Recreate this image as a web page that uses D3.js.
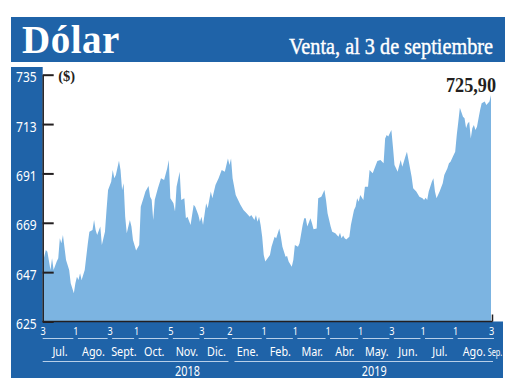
<!DOCTYPE html>
<html>
<head>
<meta charset="utf-8">
<script src="https://cdn.jsdelivr.net/npm/d3@7"></script>
<style>
	body { margin: 0; background: #fff; }
	svg { display: block; }
</style>
</head>
<body>
<svg id="chart" width="520" height="390"></svg>
<script>
// trading session (counted from 3 Jul 2018) and the selling rate in pesos
var sessions = [0, 2, 3, 5, 6, 7, 9, 10, 11, 12, 13, 15, 17, 18, 20, 21, 22, 23, 24, 25, 27, 29, 30, 32, 33, 34, 35, 37, 38, 40,
	41, 42, 44, 45, 46, 47, 49, 50, 51, 52, 53, 54, 56, 57, 58, 60, 62, 63, 65, 66, 68, 69, 70, 71, 72, 74, 76, 78, 80, 81,
	82, 84, 85, 86, 88, 89, 91, 92, 93, 95, 97, 98, 100, 101, 102, 103, 105, 106, 108, 109, 111, 113, 115, 117, 119, 120, 121, 122, 124, 125,
	127, 129, 131, 133, 134, 136, 137, 138, 139, 140, 141, 142, 143, 146, 147, 149, 150, 152, 153, 154, 156, 157, 158, 160, 161, 162, 164, 165, 167, 168,
	169, 170, 172, 173, 174, 176, 177, 179, 181, 182, 183, 185, 186, 188, 190, 191, 192, 193, 194, 195, 197, 198, 200, 201, 202, 203, 204, 206, 207, 209,
	210, 212, 214, 215, 217, 219, 220, 221, 222, 224, 225, 226, 227, 228, 230, 231, 232, 233, 234, 235, 237, 238, 240, 242, 244, 245, 246, 247, 248, 250,
	251, 252, 253, 255, 257, 258, 260, 261, 262, 264, 265, 266, 267, 268, 270, 271, 272, 273, 274, 275, 276, 277, 278, 279, 280, 281, 282, 284, 285, 287,
	288];
var values = [651, 656.9, 656.1, 648, 653.2, 648, 651.7, 653.2, 662.1, 659.9, 663.6, 652.4, 648, 642, 637.6, 642, 645, 643.5, 646.5, 643.5, 648, 659.9, 665, 665.8, 670.2, 665.8, 663.6, 667.3, 659.1, 665,
	674.7, 683.6, 687.3, 692.5, 688.8, 690.3, 696.7, 692.5, 683.6, 686.6, 671.7, 664.3, 670.2, 667.3, 661.3, 656.6, 659.1, 676.2, 680.6, 682.9, 685.4, 680.6, 679.3, 670.2, 679.3, 684.4, 688.8, 688.1, 693.3, 697,
	679.9, 677.7, 674, 685.1, 691.8, 679.2, 679.9, 671, 671.7, 668, 677, 676.2, 672.5, 669.5, 671.7, 668, 677.7, 675.5, 682.9, 679.9, 685.8, 688.8, 692.5, 691.8, 697.7, 694.8, 697.7, 688.8, 681.4, 679.9,
	677, 674.7, 673.2, 671.7, 672.5, 670.2, 672.5, 669.5, 671.7, 668, 662.8, 654.6, 651.7, 654.6, 658.3, 662.8, 662.1, 666.5, 662.8, 658.3, 653.9, 654.2, 651.7, 649.4, 652.4, 659.1, 658.3, 659.9, 668, 671,
	671, 667.3, 671, 668.8, 666.1, 666.5, 679.9, 680.6, 683.6, 679.2, 673.2, 667.3, 665, 664.3, 662.8, 664.6, 662.1, 663.3, 662.1, 661.6, 662.8, 668, 674.7, 676.2, 679.9, 678.4, 681.4, 679.2, 685.1, 685.1,
	692.5, 691.1, 694.8, 696.5, 697, 695.5, 706.6, 708.1, 707.4, 710.3, 702.9, 694.8, 693.3, 691.8, 697, 694, 696.2, 698.5, 700.7, 697, 689.5, 684.4, 682.9, 680.6, 679.9, 679.2, 680.2, 679.2, 682.9, 687.3,
	688.8, 682.9, 679.9, 682.9, 686.6, 690.3, 693.3, 695.5, 696.2, 699.2, 700.7, 708.1, 714, 720.3, 716.3, 715.6, 711.1, 713.3, 714, 706.6, 711.1, 712.6, 710.3, 711.8, 715.6, 719.3, 722.3, 723, 721.5, 723,
	725.9];

var yTicks = [625, 647, 669, 691, 713, 735];

// first session of each month and the day shown under it
var tickSessions = [0, 21, 43, 60, 82, 102, 120, 142, 162, 183, 204, 224, 244, 265, 288];
var tickLabels = ["3", "1", "3", "1", "5", "3", "2", "1", "1", "1", "1", "3", "1", "1", "3"];
var months = ["Jul.", "Ago.", "Sept.", "Oct.", "Nov.", "Dic.", "Ene.", "Feb.", "Mar.", "Abr.", "May.", "Jun.", "Jul.", "Ago.", "Sep."];

var years = ["2018", "2019"];
var yearStart = [0, 120];
var yearEnd = [120, 288];
var yearLabelAt = [93, 213];

var lastLabel = "725,90";

var blue = "#1f63a8";
var areaColor = "#7cb4e1";
var ink = "#231f20";
var rule = "#b7cfe9";
var sans = "'Noto Sans', sans-serif";
var serif = "'Liberation Serif', serif";

var svg = d3.select("#chart");

var x = d3.scaleLinear()
	.domain([0, 288])
	.range([42.7, 491]);

var y = d3.scaleLinear()
	.domain([625, 735])
	.range([321.5, 74.7]);

var bottom = 378;

// title bar
svg.append("rect")
	.attr("x", 11).attr("y", 17)
	.attr("width", 494).attr("height", 45)
	.attr("fill", blue);

svg.append("text")
	.attr("x", 22).attr("y", 52.5)
	.attr("fill", "#fff")
	.style("font-family", serif)
	.style("font-weight", "bold")
	.style("font-size", "39px")
	.style("letter-spacing", "0.5px")
	.text("Dólar");

svg.append("text")
	.attr("x", 493).attr("y", 54)
	.attr("text-anchor", "end")
	.attr("textLength", 204)
	.attr("lengthAdjust", "spacingAndGlyphs")
	.attr("fill", "#fff")
	.attr("stroke", "#fff")
	.attr("stroke-width", 0.4)
	.style("font-family", serif)
	.style("font-size", "23px")
	.text("Venta, al 3 de septiembre");

// blue strips for the axes
svg.append("rect")
	.attr("x", 11).attr("y", 67)
	.attr("width", x(0) - 11).attr("height", bottom - 67)
	.attr("fill", blue);

svg.append("rect")
	.attr("x", 11).attr("y", y(625))
	.attr("width", 503 - 11).attr("height", bottom - y(625))
	.attr("fill", blue);

// the area
var data = sessions.map(function(s, i) {
	return {s: s, v: values[i]};
});

var area = d3.area()
	.x(function(d) { return x(d.s); })
	.y0(y(625))
	.y1(function(d) { return y(d.v); });

svg.append("path")
	.datum(data)
	.attr("d", area)
	.attr("fill", areaColor);

// y axis: ticks point inside, labels sit in the blue strip
var yAxis = svg.append("g")
	.attr("transform", "translate(" + x(0) + ",0)")
	.call(d3.axisLeft(y).tickValues(yTicks).tickSize(-11).tickSizeOuter(0).tickPadding(6));

yAxis.select(".domain")
	.attr("stroke", ink)
	.attr("stroke-width", 1.5);

yAxis.selectAll(".tick line")
	.attr("stroke", ink)
	.attr("stroke-width", 2);

yAxis.selectAll(".tick text")
	.attr("fill", "#fff")
	.attr("x", -6 / 0.86)
	.attr("dy", "0.5em")
	.attr("transform", "scale(0.86,1)")
	.style("font-family", sans)
	.style("font-size", "14px");

// baseline and the closing tick on the right
svg.append("line")
	.attr("x1", x(0)).attr("x2", x(288) + 1.5)
	.attr("y1", y(625)).attr("y2", y(625))
	.attr("stroke", ink)
	.attr("stroke-width", 1.5);

svg.append("line")
	.attr("x1", x(288) + 1.5).attr("x2", x(288) + 1.5)
	.attr("y1", y(625) - 7).attr("y2", y(625))
	.attr("stroke", ink)
	.attr("stroke-width", 1.5);

// x axis: day numbers
var xAxis = svg.append("g")
	.attr("transform", "translate(0," + y(625) + ")")
	.call(d3.axisBottom(x).tickValues(tickSessions)
		.tickFormat(function(d, i) { return tickLabels[i]; })
		.tickSize(0).tickPadding(0));

xAxis.select(".domain").remove();

xAxis.selectAll(".tick text")
	.attr("y", 13.5)
	.attr("dy", 0)
	.attr("transform", "scale(0.8,1)")
	.attr("fill", "#fff")
	.style("font-family", sans)
	.style("font-size", "11.5px");

// month rules and names
var monthRow = svg.append("g");

months.forEach(function(m, i) {
	var last = i === months.length - 1;
	var a = x(tickSessions[i]);
	var b = last ? a + 3 : x(tickSessions[i + 1]);
	var left = i === 0 ? a : (last ? a - 3 : a + 2.5);
	var right = last ? b : b - 2;
	var cx = last ? a + 4 : (a + b) / 2 + 1;

	monthRow.append("line")
		.attr("x1", left).attr("x2", right)
		.attr("y1", 338.5).attr("y2", 338.5)
		.attr("stroke", rule)
		.attr("stroke-width", 1);

	monthRow.append("text")
		.attr("transform", "translate(" + cx + ",356) scale(" + (last ? 0.7 : 0.9) + ",1)")
		.attr("text-anchor", "middle")
		.attr("fill", "#fff")
		.style("font-family", sans)
		.style("font-size", last ? "10.5px" : "12px")
		.text(m);
});

// year rules and names
years.forEach(function(yr, i) {
	svg.append("line")
		.attr("x1", x(yearStart[i]) + (i === 0 ? 0 : 5))
		.attr("x2", x(yearEnd[i]) - (i === 0 ? 1 : -2))
		.attr("y1", 361.5).attr("y2", 361.5)
		.attr("stroke", rule)
		.attr("stroke-width", 1);

	svg.append("text")
		.attr("transform", "translate(" + x(yearLabelAt[i]) + ",376) scale(0.75,1)")
		.attr("text-anchor", "middle")
		.attr("fill", "#fff")
		.style("font-family", sans)
		.style("font-size", "14.5px")
		.text(yr);
});

// unit and last value
svg.append("text")
	.attr("x", x(0) + 15.5).attr("y", 81)
	.attr("fill", ink)
	.style("font-family", serif)
	.style("font-weight", "bold")
	.style("font-size", "14.5px")
	.text("($)");

svg.append("text")
	.attr("x", x(288) + 5).attr("y", 91.5)
	.attr("text-anchor", "end")
	.attr("textLength", 50)
	.attr("lengthAdjust", "spacingAndGlyphs")
	.attr("fill", ink)
	.style("font-family", serif)
	.style("font-weight", "bold")
	.style("font-size", "21px")
	.text(lastLabel);
</script>
</body>
</html>
